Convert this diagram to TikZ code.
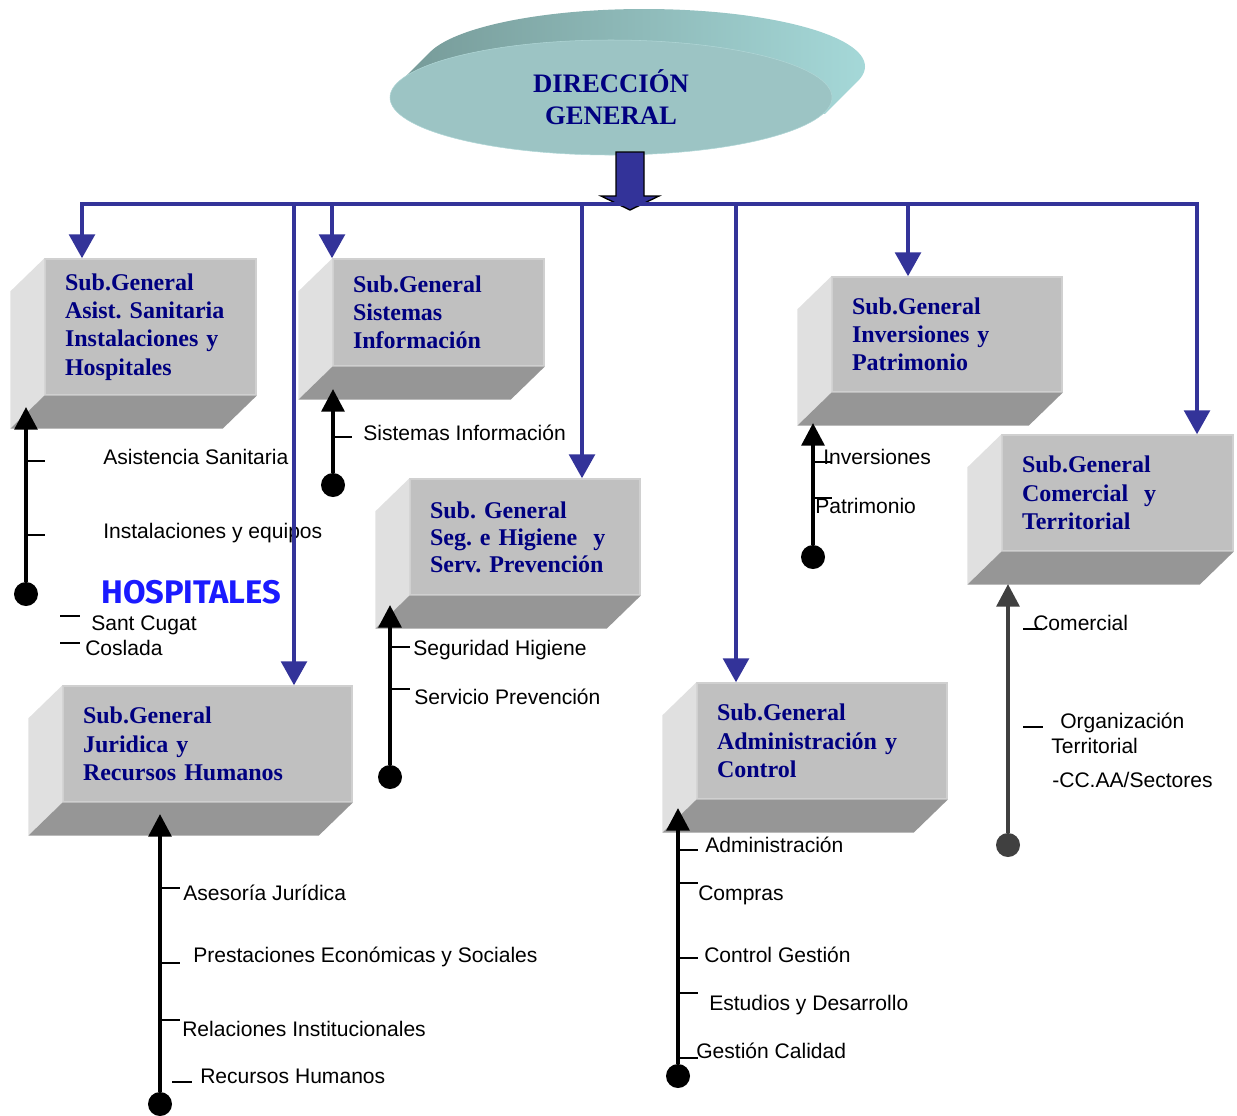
\documentclass[tikz,border=0pt]{standalone}
\usepackage{fontspec}
\setmainfont{Liberation Serif}
\newfontfamily\arialfont{Liberation Sans}
\newfontfamily\hospfont{Fira Sans}
\usetikzlibrary{arrows.meta,shapes.geometric,calc}
\frenchspacing

\definecolor{frontgray}{RGB}{192,192,192}
\definecolor{frontedge}{RGB}{208,208,208}
\definecolor{sidegray}{RGB}{224,224,224}
\definecolor{basegray}{RGB}{150,150,150}
\definecolor{dgfront}{RGB}{156,196,196}
\definecolor{dgdark}{RGB}{118,154,152}
\definecolor{dgmid}{RGB}{128,166,165}
\definecolor{dglight}{RGB}{165,216,216}
\definecolor{busblue}{RGB}{51,51,153}
\definecolor{navytext}{RGB}{0,0,128}
\definecolor{hospblue}{RGB}{26,26,255}
\definecolor{comgray}{RGB}{64,64,64}

\begin{document}
\begin{tikzpicture}[x=0.75pt,y=0.75pt,yscale=-1,xscale=1,
  front/.style 2 args={rectangle, draw=frontedge, fill=frontgray, line width=1pt,
    inner xsep=15pt, inner ysep=0pt, text width=#1, minimum height=#2,
    align=left, text=navytext, font=\fontsize{18}{21.2}\selectfont\bfseries},
  sideface/.style={fill=sidegray},
  baseface/.style={fill=basegray},
  lbl/.style={anchor=base west, inner sep=0pt, font=\arialfont\fontsize{15.8}{19}\selectfont},
  tickline/.style={line width=1.2pt},
  drop/.style={busblue, line width=3.5pt, -{Triangle[width=19pt,length=18pt]}},
  feed/.style={line width=3.2pt, -{Triangle[width=17pt,length=17pt]}},
  dot/.style={circle, fill, inner sep=0pt, minimum size=18pt}]
\path[use as bounding box] (0,0) rectangle (1237,1115);

%Shape: Ellipse [Direccion General]
\shade[left color=dgdark, middle color=dgmid, right color=dglight] (397.1,85) -- (430.1,52) -- (857.9,81) -- (824.9,114) -- cycle (644,66.5) ellipse [x radius=221, y radius=57.5];
\node[ellipse, fill=dgfront, draw={rgb,255:red,176;green,214;blue,214}, inner sep=0pt,
  minimum width=331.5pt, minimum height=86.25pt, align=center, text=navytext,
  font=\fontsize{20}{24}\selectfont\bfseries] (dg) at (611,97.5) {DIRECCIÓN\\GENERAL};
%Block Arrow
\draw[fill=busblue, line width=1pt] (616,152) -- (644,152) -- (644,196) -- (659,196) -- (630,210) -- (601,196) -- (616,196) -- cycle;

%Shape: Box [Asist. Sanitaria]
\node[front={128.25pt}{102pt}] (asis) at (150.5,327) {Sub.General\\Asist. Sanitaria\\Instalaciones y\\Hospitales};
\fill[sideface] (asis.north west) -- ($(asis.north west)+(-34,33)$) -- ($(asis.south west)+(-34,33)$) -- (asis.south west) -- cycle;
\fill[baseface] (asis.south west) -- (asis.south east) -- ($(asis.south east)+(-34,33)$) -- ($(asis.south west)+(-34,33)$) -- cycle;
%Shape: Box [Sistemas]
\node[front={128.25pt}{80.25pt}] (sist) at (438.5,312.5) {Sub.General\\Sistemas\\Información};
\fill[sideface] (sist.north west) -- ($(sist.north west)+(-34,33)$) -- ($(sist.south west)+(-34,33)$) -- (sist.south west) -- cycle;
\fill[baseface] (sist.south west) -- (sist.south east) -- ($(sist.south east)+(-34,33)$) -- ($(sist.south west)+(-34,33)$) -- cycle;
%Shape: Box [Seg. e Higiene]
\node[front={142.5pt}{87pt}] (segh) at (525,537) {Sub. General\\[-1pt]Seg. e Higiene~~y\\[-1pt]Serv. Prevención\\[3pt]};
\fill[sideface] (segh.north west) -- ($(segh.north west)+(-34,33)$) -- ($(segh.south west)+(-34,33)$) -- (segh.south west) -- cycle;
\fill[baseface] (segh.south west) -- (segh.south east) -- ($(segh.south east)+(-34,33)$) -- ($(segh.south west)+(-34,33)$) -- cycle;
%Shape: Box [Inversiones]
\node[front={142.5pt}{86.25pt}] (inve) at (947,334.5) {Sub.General\\Inversiones y\\Patrimonio\\[3pt]};
\fill[sideface] (inve.north west) -- ($(inve.north west)+(-34,33)$) -- ($(inve.south west)+(-34,33)$) -- (inve.south west) -- cycle;
\fill[baseface] (inve.south west) -- (inve.south east) -- ($(inve.south east)+(-34,33)$) -- ($(inve.south west)+(-34,33)$) -- cycle;
%Shape: Box [Comercial]
\node[front={143.25pt}{87pt}] (come) at (1117.5,493) {Sub.General\\Comercial~~y\\Territorial\\[3pt]};
\fill[sideface] (come.north west) -- ($(come.north west)+(-34,33)$) -- ($(come.south west)+(-34,33)$) -- (come.south west) -- cycle;
\fill[baseface] (come.south west) -- (come.south east) -- ($(come.south east)+(-34,33)$) -- ($(come.south west)+(-34,33)$) -- cycle;
%Shape: Box [Juridica]
\node[front={186.75pt}{87pt}] (juri) at (207.5,744) {Sub.General\\Juridica y\\Recursos Humanos\\[3pt]};
\fill[sideface] (juri.north west) -- ($(juri.north west)+(-34,33)$) -- ($(juri.south west)+(-34,33)$) -- (juri.south west) -- cycle;
\fill[baseface] (juri.south west) -- (juri.south east) -- ($(juri.south east)+(-34,33)$) -- ($(juri.south west)+(-34,33)$) -- cycle;
%Shape: Box [Administracion]
\node[front={157.5pt}{87pt}] (admi) at (822,741) {Sub.General\\Administración y\\Control\\[3pt]};
\fill[sideface] (admi.north west) -- ($(admi.north west)+(-34,33)$) -- ($(admi.south west)+(-34,33)$) -- (admi.south west) -- cycle;
\fill[baseface] (admi.south west) -- (admi.south east) -- ($(admi.south east)+(-34,33)$) -- ($(admi.south west)+(-34,33)$) -- cycle;

% Text Node
\node[lbl] (asisSan) at (103,464) {Asistencia Sanitaria};
\node[lbl] (asisIns) at (103,538) {Instalaciones y equipos};
\node[anchor=base west, inner sep=0pt, text=hospblue, font=\hospfont\bfseries\fontsize{24.5}{28}\selectfont] (hosp) at (101,603) {HOSPITALES};
\node[lbl] (hospSC) at (91,630) {Sant Cugat};
\node[lbl] (hospCo) at (85,655) {Coslada};
% Text Node
\node[lbl] (sistInf) at (363,440) {Sistemas Información};
% Text Node
\node[lbl] (seghSeg) at (413,655) {Seguridad Higiene};
\node[lbl] (seghSer) at (414,704) {Servicio Prevención};
% Text Node
\node[lbl] (inveInv) at (823,464) {Inversiones};
\node[lbl] (invePat) at (815,513) {Patrimonio};
% Text Node
\node[lbl] (comeCom) at (1033,630) {Comercial};
\node[lbl] (comeOrg) at (1060,728) {Organización};
\node[lbl] (comeTer) at (1051,753) {Territorial};
\node[lbl] (comeCCA) at (1052,787) {-CC.AA/Sectores};
% Text Node
\node[lbl] (juriAse) at (183,900) {Asesoría Jurídica};
\node[lbl] (juriPre) at (193,962) {Prestaciones Económicas y Sociales};
\node[lbl] (juriRel) at (182,1036) {Relaciones Institucionales};
\node[lbl] (juriRec) at (200,1083) {Recursos Humanos};
% Text Node
\node[lbl] (admiAdm) at (705,852) {Administración};
\node[lbl] (admiCom) at (698,900) {Compras};
\node[lbl] (admiCon) at (704,962) {Control Gestión};
\node[lbl] (admiEst) at (709,1010) {Estudios y Desarrollo};
\node[lbl] (admiGes) at (696,1058) {Gestión Calidad};

%Feed Lines
\node[dot] (dotA) at (26,594) {};
\coordinate (tipA) at (26,407);
\draw[feed] (dotA) -- (tipA);
\draw[tickline] (26,461) -- (45,461) (26,535) -- (45,535);
\draw[tickline] (60,616) -- (80,616) (60,643) -- (80,643);

\node[dot] (dotB) at (333,485) {};
\coordinate (tipB) at (333,389);
\draw[feed] (dotB) -- (tipB);
\draw[tickline] (333,437) -- (352,437);

\node[dot] (dotC) at (390,777) {};
\coordinate (tipC) at (390,605);
\draw[feed] (dotC) -- (tipC);
\draw[tickline] (390,647) -- (410,647) (390,689) -- (410,689);

\node[dot] (dotD) at (813,557) {};
\coordinate (tipD) at (813,423);
\draw[feed] (dotD) -- (tipD);
\draw[tickline] (813,462) -- (832,462) (813,498) -- (832,498);

\node[dot, fill=comgray] (dotE) at (1008,845) {};
\coordinate (tipE) at (1008,584);
\draw[feed, comgray] (dotE) -- (tipE);
\draw[tickline] (1023,629) -- (1042,629) (1023,727) -- (1043,727);

\node[dot] (dotF) at (160,1104) {};
\coordinate (tipF) at (160,814);
\draw[feed] (dotF) -- (tipF);
\draw[tickline] (160,888) -- (180,888) (160,963) -- (180,963) (160,1020) -- (180,1020) (172,1082) -- (192,1082);

\node[dot] (dotG) at (678,1076) {};
\coordinate (tipG) at (678,808);
\draw[feed] (dotG) -- (tipG);
\draw[tickline] (678,850) -- (698,850) (678,883) -- (698,883) (678,958) -- (698,958) (678,993) -- (698,993) (678,1058) -- (698,1058);

%Bus Lines
\coordinate (busL) at (82,204);
\coordinate (busR) at (1197,204);
\coordinate (jF) at (294,204);
\coordinate (jB) at (332,204);
\coordinate (jC) at (582,204);
\coordinate (jG) at (736,204);
\coordinate (jD) at (908,204);
\draw[busblue, line width=3.5pt, line cap=rect] (busL) -- (busR);
\draw[drop] (busL) -- (busL |- asis.north);
\draw[drop] (jF) -- (jF |- juri.north);
\draw[drop] (jB) -- (jB |- sist.north);
\draw[drop] (jC) -- (jC |- segh.north);
\draw[drop] (jG) -- (jG |- admi.north);
\draw[drop] (jD) -- (jD |- inve.north);
\draw[drop] (busR) -- (busR |- come.north);

\end{tikzpicture}
\end{document}
